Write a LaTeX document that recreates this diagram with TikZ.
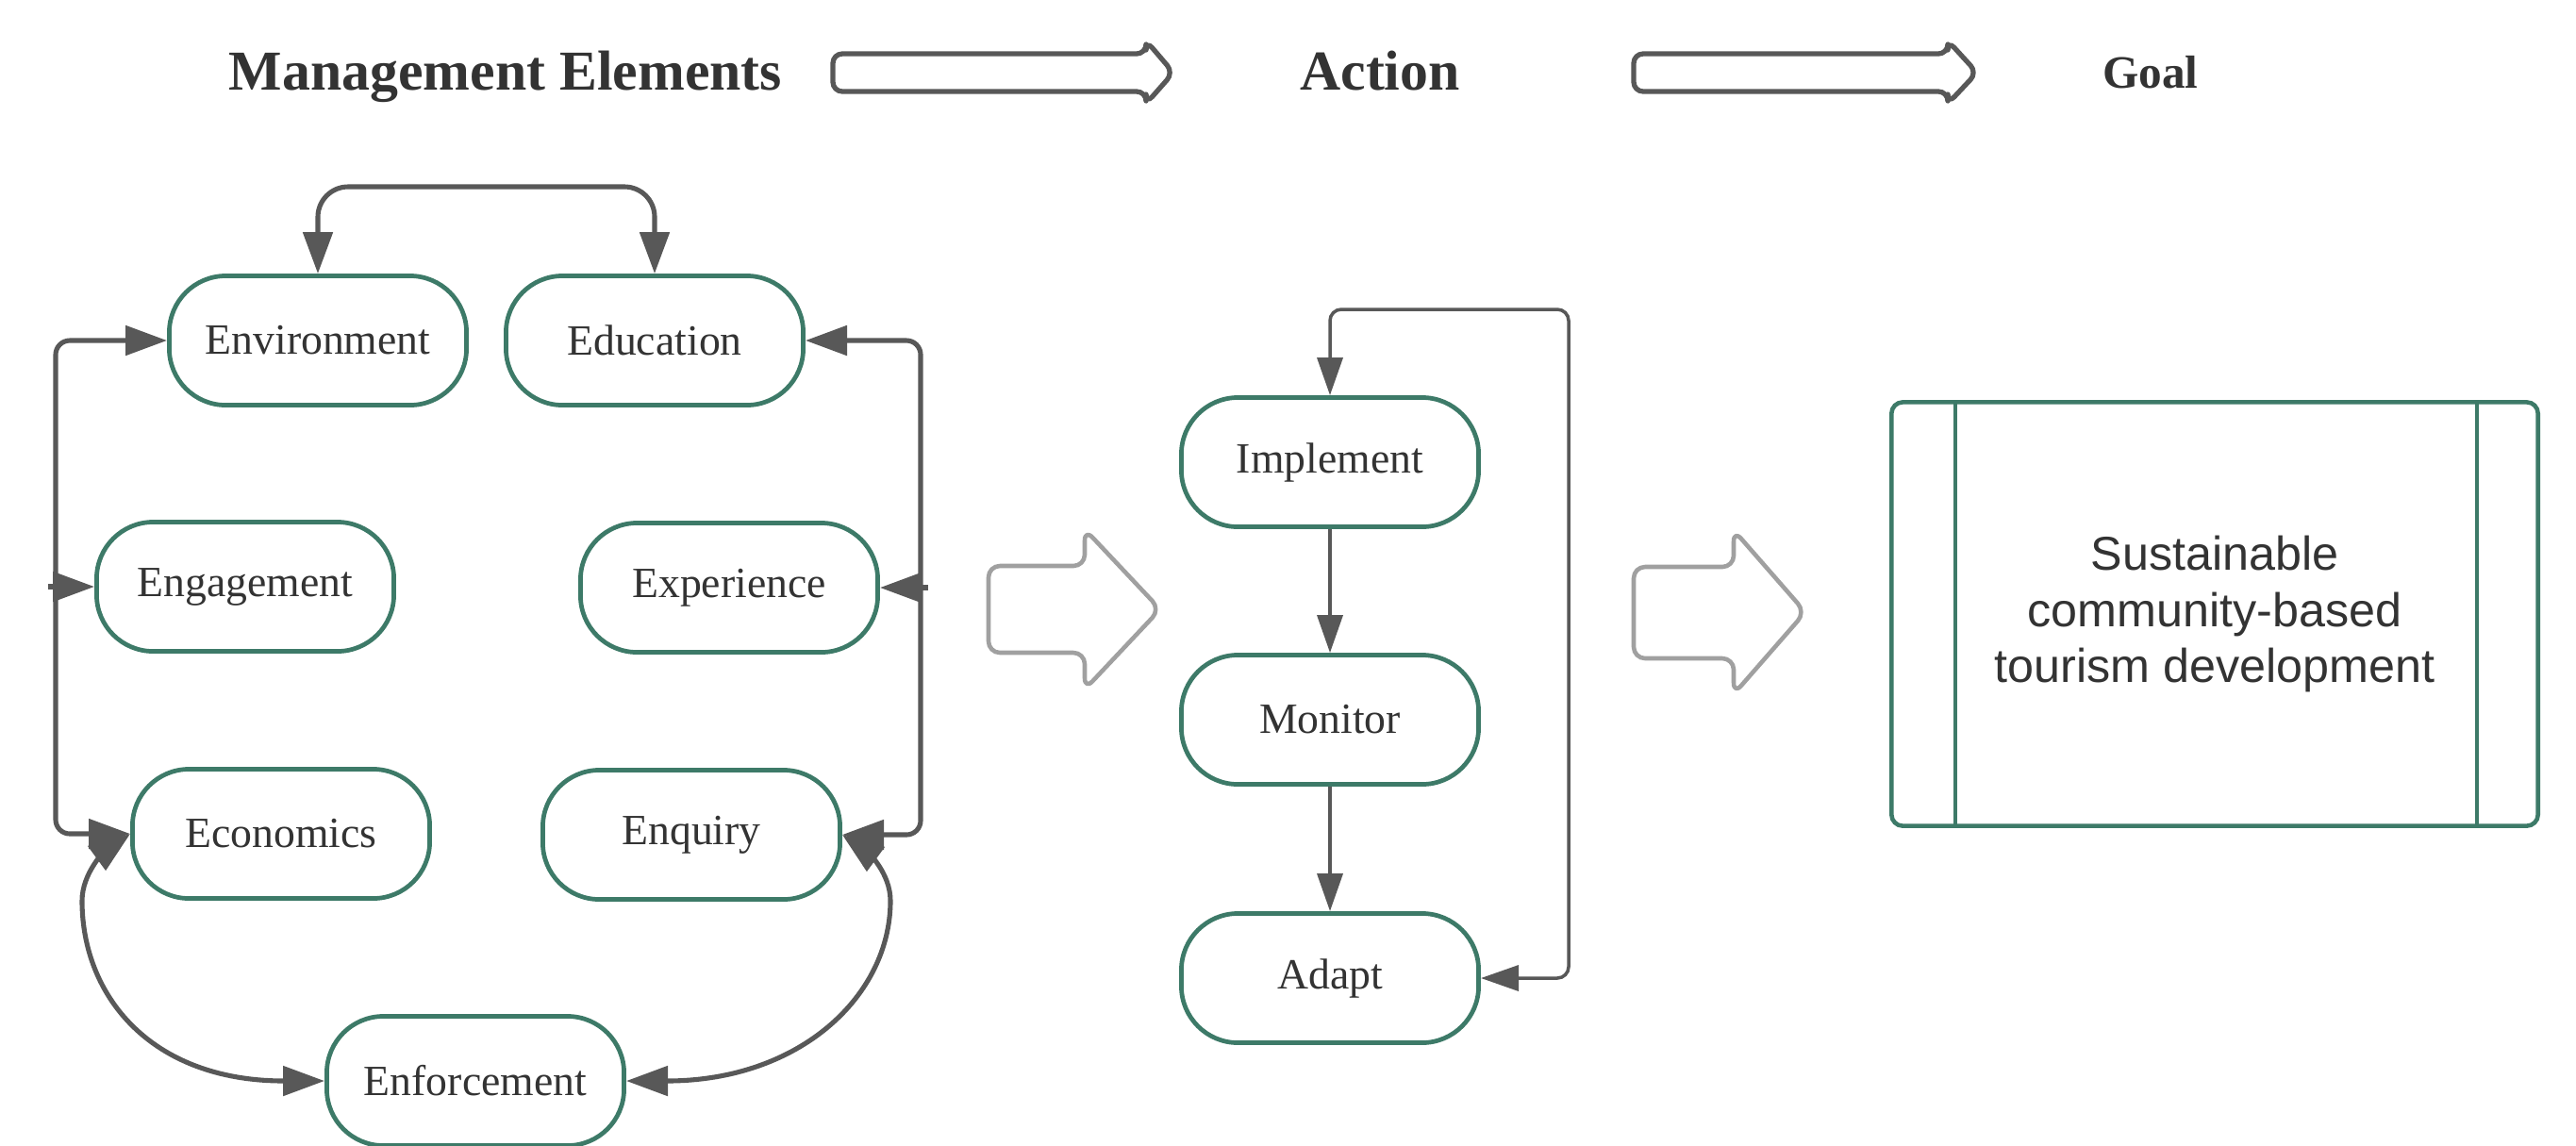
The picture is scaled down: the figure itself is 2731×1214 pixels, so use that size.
\documentclass[tikz,border=0pt]{standalone}
\usepackage{fontspec}
\setmainfont{Liberation Serif}
\newfontfamily\goalfont{Liberation Sans}
\usetikzlibrary{arrows.meta}
\definecolor{elemgreen}{RGB}{61,122,104}
\definecolor{linegray}{RGB}{88,88,88}
\definecolor{hollowgray}{RGB}{160,160,160}
\definecolor{txt}{RGB}{51,51,51}
\begin{document}
\begin{tikzpicture}[x=0.01cm,y=-0.01cm,
  elem/.style={draw=elemgreen, line width=1.35pt, rounded corners=0.6cm, minimum width=3.15cm, minimum height=1.37cm, inner sep=0pt, fill=white, text=txt, font=\fontsize{13}{15}\selectfont},
  conn/.style={draw=linegray, line width=1.45pt, >={Triangle[length=0.44cm,width=0.31cm]}},
  conn2/.style={draw=linegray, line width=1.0pt, >={Triangle[length=0.4cm,width=0.27cm]}},
  hollow/.style={draw=hollowgray, line width=1.3pt, fill=white, rounded corners=0.12cm, line join=round},
  headarrow/.style={draw=linegray, line width=1.5pt, fill=white, rounded corners=0.1cm, line join=round},
  header/.style={text=txt, font=\bfseries\fontsize{17}{20}\selectfont, anchor=base},
  goalbox/.style={draw=elemgreen, line width=1.3pt, rounded corners=0.12cm, minimum width=6.85cm, minimum height=4.49cm, inner sep=0pt, align=center, text=txt, font=\goalfont\fontsize{14.3}{17}\selectfont}
]
\useasboundingbox (0,0) rectangle (2731,1214);

% headers
\node[header] (h1) at (536,95) {Management Elements};
\node[header] (h2) at (1463,95) {Action};
\node[header, font=\bfseries\fontsize{14}{17}\selectfont] (h3) at (2280,93) {Goal};

% header block arrows
\draw[headarrow] (1000,57) -- (883,57) -- (883,97) -- (1215,97) -- (1215,110) -- (1244,77) -- (1215,43) -- (1215,57) -- cycle;
\draw[headarrow] (1850,57) -- (1732,57) -- (1732,97) -- (2065,97) -- (2065,110) -- (2096,77) -- (2065,43) -- (2065,57) -- cycle;

% management elements
\node[elem] (env) at (337,361) {Environment};
\node[elem] (edu) at (694,361) {Education};
\node[elem] (eng) at (260,622) {Engagement};
\node[elem] (exp) at (773,623) {Experience};
\node[elem] (eco) at (298,884) {Economics};
\node[elem] (enq) at (733,885) {Enquiry};
\node[elem] (enf) at (504,1146) {Enforcement};

\coordinate (T) at (515,198);
\draw[conn,<->,rounded corners=0.32cm] (env.north) |- (T) -| (edu.north);

\coordinate (L) at (59,0);
\coordinate (R) at (976,0);
\draw[conn,<->,rounded corners=0.15cm] (env.west) -- (env.west -| L) -- (eco.west -| L) -- (eco.west);
\draw[conn,<->,rounded corners=0.15cm] (edu.east) -- (edu.east -| R) -- (enq.east -| R) -- (enq.east);
\coordinate (engL) at (eng.west -| L);
\coordinate (expR) at (exp.east -| R);
\draw[conn,->] ([xshift=-0.08cm]engL) -- (eng.west);
\draw[conn,->] ([xshift=0.08cm]expR) -- (exp.east);

\coordinate (cl) at (87,955);
\coordinate (cr) at (944,955);
\draw[conn,<->] (eco.west) .. controls +(-26,19) and +(0,-30) .. (cl) .. controls +(0,100) and +(-185,0) .. (enf.west);
\draw[conn,<->] (enq.east) .. controls +(26,19) and +(0,-30) .. (cr) .. controls +(0,100) and +(185,0) .. (enf.east);

% big hollow arrow 1
\draw[hollow] (1100,600) -- (1048,600) -- (1048,692) -- (1150,692) -- (1150,731) -- (1230,646) -- (1150,561) -- (1150,600) -- cycle;

% action
\node[elem] (imp) at (1410,490) {Implement};
\node[elem] (mon) at (1410,763) {Monitor};
\node[elem] (ada) at (1410,1037) {Adapt};
\draw[conn2,->] (imp.south) -- (mon.north);
\draw[conn2,->] (mon.south) -- (ada.north);
\coordinate (fb) at (1663,328);
\draw[conn2,<->,rounded corners=0.12cm] (ada.east) -| (fb) -| (imp.north);

% big hollow arrow 2
\draw[hollow] (1780,601) -- (1732,601) -- (1732,698) -- (1838,698) -- (1838,736) -- (1914,649) -- (1838,562) -- (1838,601) -- cycle;

% goal
\node[goalbox] (goal) at (2348,651) {Sustainable\\community-based\\tourism development};
\draw[elemgreen, line width=1.2pt] ([xshift=0.7cm]goal.north west) -- ([xshift=0.7cm]goal.south west);
\draw[elemgreen, line width=1.2pt] ([xshift=-0.67cm]goal.north east) -- ([xshift=-0.67cm]goal.south east);
\end{tikzpicture}
\end{document}
